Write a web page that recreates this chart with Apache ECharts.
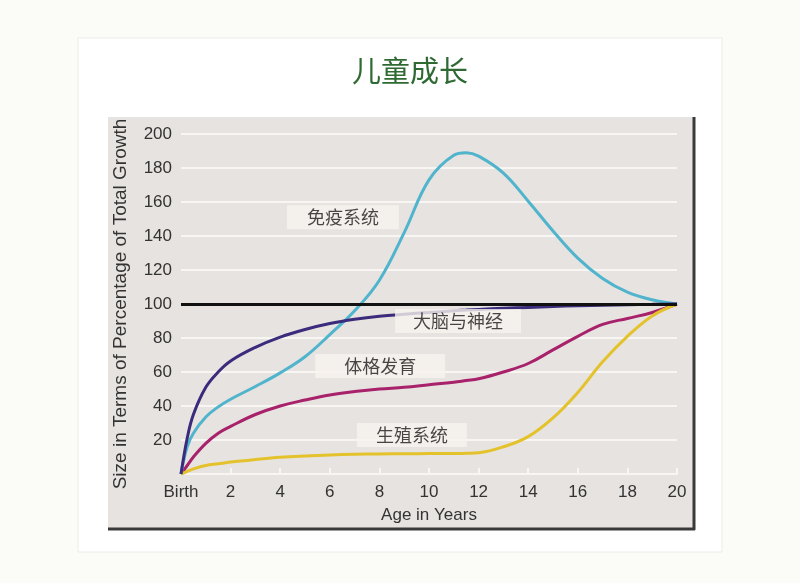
<!DOCTYPE html>
<html>
<head>
<meta charset="utf-8">
<title>儿童成长</title>
<script src="https://cdn.jsdelivr.net/npm/echarts@6/dist/echarts.min.js"></script>
<style>
  html, body { margin: 0; padding: 0; background: #fbfbf8; }
  #chart { width: 800px; height: 583px; }
</style>
</head>
<body>
<div id="chart"></div>
<script>
// 年龄（横轴）
var ages = [0, 0.25, 0.5, 1, 1.5, 2, 3, 4, 5, 6, 7, 8, 9, 10, 11, 11.5, 12, 13, 14, 15, 16, 17, 18, 19, 20];

// 各系统占总生长的百分比
var immune   = [0, 16, 24, 33.5, 39.5, 44, 51.5, 59.5, 69, 82, 96, 114, 142, 173, 187.5, 189, 187, 177, 160.5, 143, 127, 115, 107, 102.5, 100];
var brain    = [0, 21, 35, 51, 60, 66.5, 74.5, 80.5, 85, 88.5, 91, 92.8, 94, 95, 96, 96.4, 96.8, 97.5, 98, 98.5, 99, 99.3, 99.6, 99.8, 100];
var physical = [0, 5, 10, 18, 24, 28, 35, 40, 43.5, 46.5, 48.5, 50, 51, 52.5, 54, 55, 56, 60, 65, 73, 81, 88, 91.5, 95, 100];
var genital  = [0, 1.5, 3, 5, 6, 7, 8.5, 9.8, 10.6, 11.2, 11.6, 11.8, 11.9, 12, 12, 12.2, 12.5, 16, 22, 33, 48, 66, 81, 93, 100];

// 曲线名称标注 [年龄, 百分比, 文字]
var notes = [
  [6.53, 151, '免疫系统'],
  [11.17, 90, '大脑与神经'],
  [8.03, 63.5, '体格发育'],
  [9.31, 23, '生殖系统']
];
// 标注底框左右留白
var notePads = [20, 18, 29, 19];

var xTicks = ['Birth', '2', '4', '6', '8', '10', '12', '14', '16', '18', '20'];

function pairs(vals) {
  return ages.map(function (a, i) { return [a, vals[i]]; });
}

function curve(name, vals, color) {
  return {
    name: name,
    type: 'line',
    data: pairs(vals),
    smooth: 0.4,
    symbol: 'none',
    lineStyle: { color: color, width: 3 },
    z: 3
  };
}

var chart = echarts.init(document.getElementById('chart'));

var series = [
  curve('physical', physical, '#a8216b'),
  curve('genital', genital, '#e4c22c'),
  curve('immune', immune, '#4fb4cc'),
  curve('brain', brain, '#3a2b7c')
];

// 100% 基准线
series[0].markLine = {
  silent: true,
  symbol: 'none',
  label: { show: false },
  lineStyle: { color: '#111', width: 3, type: 'solid' },
  data: [{ yAxis: 100 }]
};

series.push({
  type: 'scatter',
  symbolSize: 0,
  zlevel: 1,
  z: 10,
  silent: true,
  data: notes.map(function (n, i) {
    return {
      value: [n[0], n[1]],
      name: n[2],
      label: { padding: [3, notePads[i], 3, notePads[i]] }
    };
  }),
  label: {
    show: true,
    position: 'inside',
    formatter: '{b}',
    color: '#1a1a1a',
    fontSize: 18,
    fontFamily: 'Noto Sans CJK SC',
    backgroundColor: '#f7f3ee'
  }
});

var option = {
  animation: false,
  backgroundColor: '#fbfbf8',
  graphic: [
    { type: 'rect', z: -20, shape: { x: 78, y: 38, width: 644, height: 514 },
      style: { fill: '#ffffff', stroke: '#ecebe6', lineWidth: 1 } },
    { type: 'rect', z: -10, shape: { x: 108, y: 117, width: 586, height: 412 },
      style: { fill: '#e7e3e0' } },
    { type: 'line', z: -9, shape: { x1: 694, y1: 117, x2: 694, y2: 530 },
      style: { stroke: '#3a3a3a', lineWidth: 3 } },
    { type: 'line', z: -9, shape: { x1: 108, y1: 529, x2: 695, y2: 529 },
      style: { stroke: '#3a3a3a', lineWidth: 3 } },
    { type: 'text', x: 410, y: 56,
      style: { text: '儿童成长', fill: '#2f6a33', fontSize: 29, fontFamily: 'Noto Sans CJK SC', textAlign: 'center' } }
  ],
  grid: { left: 181, right: 123, top: 134, bottom: 109 },
  xAxis: {
    type: 'value',
    min: 0,
    max: 20,
    interval: 2,
    name: 'Age in Years',
    nameLocation: 'middle',
    nameGap: 33,
    nameTextStyle: { color: '#333', fontSize: 17, fontFamily: 'Liberation Sans' },
    axisLine: { lineStyle: { color: '#f8f6f3', width: 2 } },
    axisTick: { inside: true, length: 6, lineStyle: { color: '#f8f6f3', width: 2 } },
    axisLabel: {
      color: '#333', fontSize: 17, fontFamily: 'Liberation Sans', margin: 10,
      formatter: function (v) { return xTicks[v / 2]; }
    },
    splitLine: { show: false }
  },
  yAxis: {
    type: 'value',
    min: 0,
    max: 200,
    interval: 20,
    name: 'Size in Terms of Percentage of Total Growth',
    nameLocation: 'middle',
    nameGap: 51,
    nameTextStyle: { color: '#333', fontSize: 19, fontFamily: 'Liberation Sans' },
    axisLine: { show: false },
    axisTick: { show: false },
    axisLabel: {
      color: '#333', fontSize: 17, fontFamily: 'Liberation Sans', margin: 9,
      formatter: function (v) { return v === 0 ? '' : v; }
    },
    splitLine: { lineStyle: { color: '#f8f6f3', width: 2 } }
  },
  series: series
};

chart.setOption(option);
</script>
</body>
</html>
